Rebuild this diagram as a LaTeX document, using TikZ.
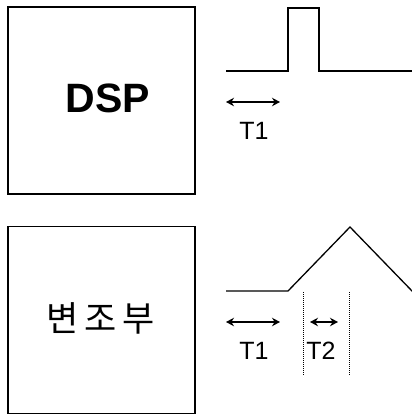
\documentclass[tikz,border=0pt]{standalone}
\usepackage{fontspec}
\setmainfont{Liberation Sans}
\newfontfamily\kofont{Noto Sans CJK KR}
\usetikzlibrary{arrows.meta}
\begin{document}
\begin{tikzpicture}[x=1pt,y=-1pt,
  blockbox/.style={draw,line width=1.3pt,minimum width=187pt,minimum height=187pt,inner sep=0pt},
  wave/.style={line width=1.6pt,line join=miter},
  dimarrow/.style={line width=2pt,{Stealth[length=8pt,width=8.5pt]}-{Stealth[length=8pt,width=8.5pt]}},
  guide/.style={line width=1pt,densely dotted},
  lbl/.style={font=\fontsize{25}{27}\selectfont,inner sep=0pt}]
\useasboundingbox (0,0) rectangle (412,416);
\node[blockbox] (dsp) at (101.5,100.5) {};
\node[font=\fontsize{41}{44}\selectfont\bfseries,inner sep=0pt] (dsptxt) at (108,98) {DSP};
\node[blockbox] (mod) at (101.5,320) {};
\node[font=\kofont\fontsize{35}{38}\selectfont,inner sep=0pt] (modtxt) at (101,318) {변\,조\,부};
% pulse waveform
\coordinate (p0) at (226,71);
\coordinate (p1) at (288,71);
\coordinate (p2) at (288,8);
\coordinate (p3) at (319,8);
\coordinate (p4) at (319,71);
\coordinate (p5) at (412,71);
\draw[wave] (p0) -- (p1) -- (p2) -- (p3) -- (p4) -- (p5);
\coordinate (a1l) at (226,102);
\coordinate (a1r) at (280,102);
\draw[dimarrow] (a1l) -- (a1r);
\node[lbl] (t1a) at (254,131) {T1};
% triangle waveform
\coordinate (q0) at (226,291);
\coordinate (q1) at (288,291);
\coordinate (q2) at (350,227);
\coordinate (q3) at (413,292);
\draw[wave,line width=1.3pt] (q0) -- (q1) -- (q2) -- (q3);
\coordinate (d1t) at (303,292);
\coordinate (d1b) at (303,376);
\coordinate (d2t) at (349,292);
\coordinate (d2b) at (349,376);
\draw[guide] (d1t) -- (d1b);
\draw[guide] (d2t) -- (d2b);
\coordinate (a2l) at (226,322);
\coordinate (a2r) at (280,322);
\draw[dimarrow] (a2l) -- (a2r);
\coordinate (a3l) at (310,322);
\coordinate (a3r) at (338,322);
\draw[dimarrow] (a3l) -- (a3r);
\node[lbl] (t1b) at (254,351) {T1};
\node[lbl] (t2) at (321,351) {T2};
\end{tikzpicture}
\end{document}
